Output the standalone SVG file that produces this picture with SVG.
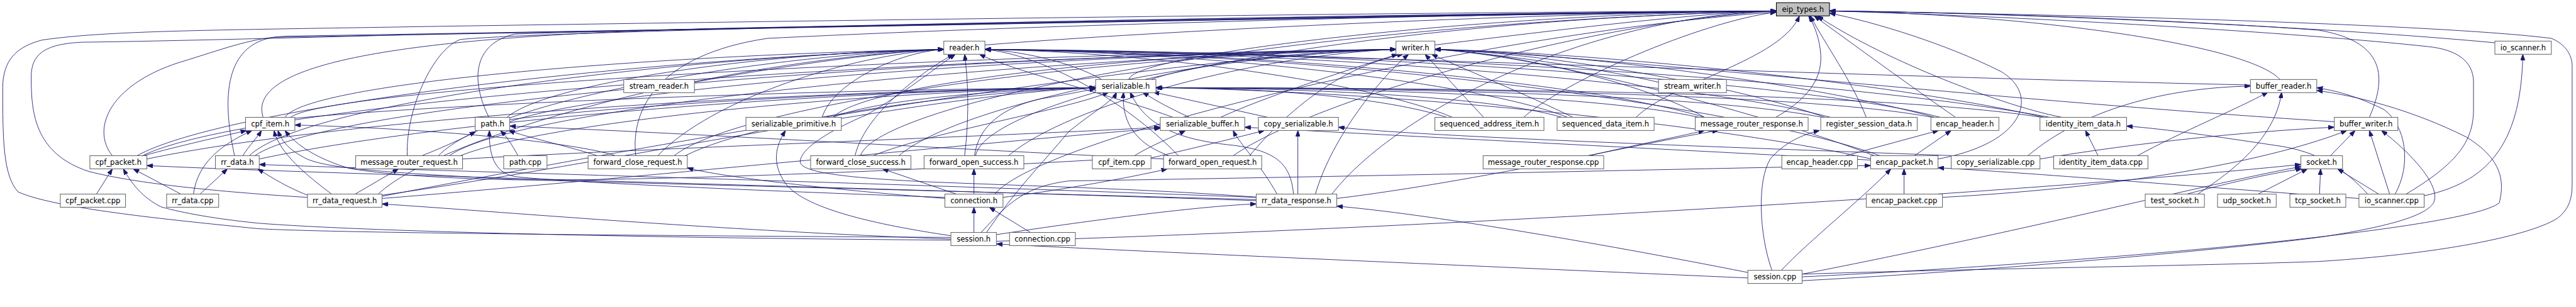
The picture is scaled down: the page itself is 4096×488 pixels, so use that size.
<svg xmlns="http://www.w3.org/2000/svg" width="4096" height="488" viewBox="0 0 4096 488">
<defs>
<marker id="a" markerWidth="11" markerHeight="8" refX="11" refY="4" orient="auto" markerUnits="userSpaceOnUse"><path d="M0,0L11,4L0,8z" fill="#191970" stroke="#191970" stroke-width="1"/></marker>
<style>
.edges path{fill:none;stroke:#191970;stroke-width:1;marker-end:url(#a)}
.node rect{fill:#ffffff;stroke:#666666;stroke-width:1.2}
.root rect{fill:#bfbfbf;stroke:#000000;stroke-width:1.2}
text{font-family:"DejaVu Sans","Liberation Sans",sans-serif;font-size:13.33px;fill:#000;text-anchor:middle}
</style>
</defs>
<rect width="4096" height="488" fill="#ffffff"/>
<g transform="scale(0.871489)">
<g id="edges" class="edges">
<path d="M1797,82 C2200,50 2900,22 3241,20"/>
<path d="M2618,82 C2800,60 3100,22 3241,20"/>
<path d="M4552,78 C4200,45 3600,22 3338,20"/>
<path d="M2060,145 C2060,100 2700,24 3241,20"/>
<path d="M4160,145 C4100,80 3700,26 3338,20"/>
<path d="M4323,214 C4365,120 4330,72 4230,55 C4000,38 3600,22 3338,20"/>
<path d="M480,214 C450,120 700,62 1400,50 C2200,36 2900,22 3241,20"/>
<path d="M205,284 C165,235 200,150 340,110 C420,85 460,70 520,66 C1500,50 2800,25 3241,20"/>
<path d="M428,284 C400,160 420,80 500,68 C1500,50 2800,25 3241,20"/>
<path d="M561,360 C400,350 250,335 163,313 C60,280 57,200 57,140 C57,100 80,80 150,77 C300,75 500,70 800,62 C2000,40 2900,22 3241,20"/>
<path d="M1735,433 C1200,430 600,425 470,417 C300,400 100,380 33,350 C5,320 5,250 5,160 C5,110 30,85 77,73 C200,55 400,55 800,48 C2000,30 2900,20 3241,20"/>
<path d="M2430,354 C2550,200 2900,30 3241,20"/>
<path d="M743,284 C740,200 790,90 840,72 C1000,55 2500,25 3241,20"/>
<path d="M892,214 C860,150 860,80 940,62 C1500,45 2800,22 3241,20"/>
<path d="M1160,284 C1150,200 1200,100 1400,70 C2000,40 2900,22 3241,20"/>
<path d="M1780,284 C1800,180 2400,40 3241,20"/>
<path d="M1570,284 C1600,190 2300,45 3241,20"/>
<path d="M2250,284 C2400,180 2900,40 3241,20"/>
<path d="M2780,214 C2850,150 3100,40 3241,22"/>
<path d="M2985,214 C3050,150 3250,110 3283,29"/>
<path d="M3240,214 C3290,185 3325,150 3322,100 C3320,70 3310,45 3300,29"/>
<path d="M3405,214 C3380,150 3330,80 3303,29"/>
<path d="M3568,214 C3490,160 3380,80 3310,29"/>
<path d="M3536,290 C3700,260 3720,170 3650,130 C3550,80 3420,40 3338,24"/>
<path d="M3762,214 C3640,190 3420,100 3316,29"/>
<path d="M1815,354 C1900,250 2700,60 3241,22"/>
<path d="M3288,500 C3600,490 4000,485 4230,477 C4500,460 4640,420 4670,395 C4693,375 4693,350 4693,330 L4693,120 C4693,100 4680,80 4655,70 C4500,50 4000,30 3338,20"/>
<path d="M4390,354 C4480,300 4513,260 4513,200 L4513,150 C4513,110 4480,90 4430,85 C4200,60 3700,30 3338,20"/>
<path d="M1267,150 C1400,125 1600,95 1722,90"/>
<path d="M1500,214 C1520,150 1640,95 1722,90"/>
<path d="M520,214 C560,150 1200,100 1722,90"/>
<path d="M250,284 C400,200 1100,110 1722,90"/>
<path d="M455,284 C550,190 1200,105 1722,90"/>
<path d="M925,214 C1000,150 1400,95 1722,90"/>
<path d="M800,284 C900,180 1400,100 1722,90"/>
<path d="M1200,284 C1300,180 1550,100 1722,90"/>
<path d="M1560,284 C1580,200 1700,120 1740,99"/>
<path d="M1760,284 C1770,200 1765,140 1760,99"/>
<path d="M690,354 C800,250 1300,110 1722,90"/>
<path d="M2010,145 C1950,110 1850,92 1797,90"/>
<path d="M4106,155 C3400,140 2300,95 1797,90"/>
<path d="M2140,214 C2050,180 1850,130 1787,99"/>
<path d="M2150,284 C2050,180 1900,100 1797,90"/>
<path d="M2650,214 C2500,150 2100,95 1797,90"/>
<path d="M2860,214 C2700,150 2200,95 1797,90"/>
<path d="M3110,214 C2900,150 2300,95 1797,90"/>
<path d="M3340,214 C3100,150 2400,95 1797,90"/>
<path d="M3540,214 C3300,150 2500,95 1797,90"/>
<path d="M3430,284 C3200,200 2500,100 1797,90"/>
<path d="M3740,214 C3400,150 2600,95 1797,90"/>
<path d="M2300,360 C2100,345 1900,340 1700,332 C1550,325 1460,315 1460,295 C1460,270 1520,235 1580,210 C1650,170 1705,125 1743,99"/>
<path d="M2100,145 C2200,110 2400,92 2547,90"/>
<path d="M1520,214 C1580,150 2100,95 2547,90"/>
<path d="M2227,214 C2300,180 2450,130 2550,99"/>
<path d="M530,214 C600,160 1700,100 2547,90"/>
<path d="M260,284 C450,190 1500,110 2547,90"/>
<path d="M465,284 C600,190 1600,105 2547,90"/>
<path d="M930,222 C1100,160 1900,100 2547,90"/>
<path d="M820,284 C950,190 1900,105 2547,90"/>
<path d="M1230,284 C1350,190 2000,100 2547,90"/>
<path d="M1640,284 C1750,190 2200,100 2547,90"/>
<path d="M1840,284 C1950,190 2300,100 2547,90"/>
<path d="M2280,284 C2350,200 2450,120 2560,99"/>
<path d="M697,358 C1000,300 2000,110 2547,90"/>
<path d="M2400,354 C2430,250 2520,140 2570,99"/>
<path d="M3026,150 C2900,120 2700,95 2618,90"/>
<path d="M4259,222 C3600,180 2900,100 2618,90"/>
<path d="M2707,214 L2600,99"/>
<path d="M2870,214 C2780,170 2680,130 2612,99"/>
<path d="M3110,214 C3000,150 2750,95 2618,90"/>
<path d="M3330,214 C3150,150 2800,95 2618,90"/>
<path d="M3530,214 C3300,150 2850,95 2618,90"/>
<path d="M3420,284 C3200,200 2800,100 2618,90"/>
<path d="M3730,214 C3450,150 2900,95 2618,90"/>
<path d="M1520,214 C1600,180 1850,162 1999,160"/>
<path d="M535,216 C800,190 1500,162 1999,160"/>
<path d="M268,290 C600,220 1400,165 1999,160"/>
<path d="M473,290 C800,220 1500,165 1999,160"/>
<path d="M930,218 C1200,185 1700,162 1999,160"/>
<path d="M840,284 C1000,220 1600,165 1999,160"/>
<path d="M1250,284 C1400,210 1800,165 1999,160"/>
<path d="M1593,284 C1700,240 1950,200 2023,168"/>
<path d="M1778,284 C1785,230 1830,195 1900,180 C1950,172 1980,165 1999,162"/>
<path d="M697,356 C1100,300 1700,170 1999,160"/>
<path d="M1800,424 C1850,350 1900,300 1950,240 C2000,200 2030,185 2037,168"/>
<path d="M2133,284 C2080,265 2045,230 2050,168"/>
<path d="M2360,354 C2355,300 2330,275 2250,265 C2150,255 2090,230 2062,168"/>
<path d="M2170,214 C2140,200 2110,185 2085,168"/>
<path d="M2313,214 C2250,200 2160,180 2104,168"/>
<path d="M2640,214 C2500,170 2250,160 2109,160"/>
<path d="M2850,214 C2700,170 2300,160 2109,160"/>
<path d="M3100,214 C2900,170 2400,160 2109,160"/>
<path d="M3325,214 C3100,170 2500,160 2109,160"/>
<path d="M3525,214 C3300,170 2600,160 2109,160"/>
<path d="M3415,290 C3100,220 2500,165 2109,160"/>
<path d="M3725,214 C3450,170 2700,160 2109,160"/>
<path d="M2070,284 C2100,265 2140,250 2163,238"/>
<path d="M844,290 C1200,270 1900,245 2117,232"/>
<path d="M697,362 C1100,330 1900,250 2117,234"/>
<path d="M3413,292 C3000,270 2500,245 2271,232"/>
<path d="M2330,354 C2300,300 2260,260 2250,238"/>
<path d="M2368,354 L2368,238"/>
<path d="M2100,288 C2180,270 2260,250 2307,238"/>
<path d="M3565,284 C3200,270 2600,250 2442,232"/>
<path d="M262,284 C330,265 400,250 450,238"/>
<path d="M353,354 C360,300 400,265 460,238"/>
<path d="M443,284 C455,265 470,250 477,238"/>
<path d="M605,354 C560,320 510,280 500,238"/>
<path d="M2292,364 C1600,345 1000,330 940,327 C700,315 600,307 560,290 C530,275 515,260 507,238"/>
<path d="M1993,292 C1500,320 1100,330 940,328 C780,325 680,315 637,307 C580,290 540,265 520,238"/>
<path d="M1123,284 C1050,260 800,235 538,228"/>
<path d="M176,354 L205,308"/>
<path d="M330,354 L243,308"/>
<path d="M1735,438 C1300,435 700,425 470,407 C380,398 320,385 293,377 C260,360 240,335 225,308"/>
<path d="M2292,366 C1500,340 600,318 268,302"/>
<path d="M365,354 L415,308"/>
<path d="M561,356 C520,340 490,320 470,308"/>
<path d="M2292,360 C1500,330 800,312 473,300"/>
<path d="M770,284 C810,268 845,252 868,240"/>
<path d="M945,284 C935,265 925,250 913,238"/>
<path d="M1090,284 C1030,265 960,250 928,238"/>
<path d="M2123,290 C1700,270 1200,240 930,230"/>
<path d="M1724,360 C1300,345 1000,330 940,322 C900,315 892,280 893,238"/>
<path d="M1735,430 C1600,410 1460,380 1430,330 C1405,290 1420,260 1433,238"/>
<path d="M648,354 L727,308"/>
<path d="M1735,436 C1300,420 900,385 697,372"/>
<path d="M1724,362 C1500,345 1300,320 1254,306"/>
<path d="M1745,354 L1610,308"/>
<path d="M1777,354 L1777,308"/>
<path d="M1830,360 C1950,345 2080,320 2130,308"/>
<path d="M1777,424 L1777,378"/>
<path d="M1880,424 L1805,378"/>
<path d="M3189,507 C2800,490 2000,455 1818,445"/>
<path d="M1818,428 C2000,400 2200,375 2292,372"/>
<path d="M3189,497 C2900,440 2600,390 2439,376"/>
<path d="M2900,284 C2980,265 3060,250 3110,238"/>
<path d="M2439,362 C2700,330 3000,260 3135,238"/>
<path d="M3233,493 C3210,430 3205,330 3230,290 C3255,260 3290,245 3320,238"/>
<path d="M3367,284 L3537,238"/>
<path d="M3493,284 L3560,238"/>
<path d="M3474,354 L3474,308"/>
<path d="M3250,493 C3300,440 3400,360 3450,308"/>
<path d="M1790,424 C1840,370 1870,340 1950,330 C2600,320 3200,305 3413,302"/>
<path d="M4304,362 C4000,340 3700,315 3536,306"/>
<path d="M3828,284 L3805,238"/>
<path d="M4320,354 C4280,310 4230,275 4150,265 C4050,250 3950,235 3880,230"/>
<path d="M4010,354 C4060,320 4150,260 4163,168"/>
<path d="M4370,354 C4400,300 4390,230 4350,200 C4300,175 4260,165 4227,160"/>
<path d="M3288,505 C3800,480 4500,420 4560,370 C4570,330 4565,290 4500,250 C4400,200 4300,175 4227,165"/>
<path d="M3700,284 C3800,200 3950,160 4106,157"/>
<path d="M3900,284 C3980,240 4080,200 4138,168"/>
<path d="M4360,354 L4323,238"/>
<path d="M3288,512 C3700,490 4100,450 4230,433 C4350,415 4425,395 4440,370 C4455,340 4400,280 4345,238"/>
<path d="M4252,284 L4297,238"/>
<path d="M3722,290 C3900,260 4100,240 4259,232"/>
<path d="M3544,360 C3900,340 4150,290 4282,238"/>
<path d="M4232,354 L4234,308"/>
<path d="M4120,354 L4210,308"/>
<path d="M3990,354 C4080,330 4150,315 4200,308"/>
<path d="M4340,354 L4265,308"/>
<path d="M3288,500 C3700,420 4050,330 4198,304"/>
<path d="M1818,440 C2500,420 3600,360 4198,300"/>
<path d="M4423,357 C4550,330 4600,250 4603,99"/>
</g>
<g id="n_eip_types_h" class="root"><rect x="3241" y="5" width="97" height="24"/><text x="3289.5" y="22">eip_types.h</text></g>
<g id="n_reader_h" class="node"><rect x="1722" y="75" width="75" height="24"/><text x="1759.5" y="92">reader.h</text></g>
<g id="n_writer_h" class="node"><rect x="2547" y="75" width="71" height="24"/><text x="2582.5" y="92">writer.h</text></g>
<g id="n_io_scanner_h" class="node"><rect x="4552" y="75" width="103" height="24"/><text x="4603.5" y="92">io_scanner.h</text></g>
<g id="n_stream_reader_h" class="node"><rect x="1138" y="145" width="129" height="24"/><text x="1202.5" y="162">stream_reader.h</text></g>
<g id="n_serializable_h" class="node"><rect x="1999" y="145" width="110" height="24"/><text x="2054" y="162">serializable.h</text></g>
<g id="n_stream_writer_h" class="node"><rect x="3026" y="145" width="124" height="24"/><text x="3088" y="162">stream_writer.h</text></g>
<g id="n_buffer_reader_h" class="node"><rect x="4106" y="145" width="121" height="24"/><text x="4166.5" y="162">buffer_reader.h</text></g>
<g id="n_cpf_item_h" class="node"><rect x="448" y="214" width="90" height="24"/><text x="493" y="231">cpf_item.h</text></g>
<g id="n_path_h" class="node"><rect x="867" y="214" width="63" height="24"/><text x="898.5" y="231">path.h</text></g>
<g id="n_serializable_primitive_h" class="node"><rect x="1361" y="214" width="174" height="24"/><text x="1448" y="231">serializable_primitive.h</text></g>
<g id="n_serializable_buffer_h" class="node"><rect x="2117" y="214" width="154" height="24"/><text x="2194" y="231">serializable_buffer.h</text></g>
<g id="n_copy_serializable_h" class="node"><rect x="2296" y="214" width="146" height="24"/><text x="2369" y="231">copy_serializable.h</text></g>
<g id="n_sequenced_address_item_h" class="node"><rect x="2618" y="214" width="199" height="24"/><text x="2717.5" y="231">sequenced_address_item.h</text></g>
<g id="n_sequenced_data_item_h" class="node"><rect x="2841" y="214" width="177" height="24"/><text x="2929.5" y="231">sequenced_data_item.h</text></g>
<g id="n_message_router_response_h" class="node"><rect x="3093" y="214" width="206" height="24"/><text x="3196" y="231">message_router_response.h</text></g>
<g id="n_register_session_data_h" class="node"><rect x="3322" y="214" width="176" height="24"/><text x="3410" y="231">register_session_data.h</text></g>
<g id="n_encap_header_h" class="node"><rect x="3523" y="214" width="124" height="24"/><text x="3585" y="231">encap_header.h</text></g>
<g id="n_identity_item_data_h" class="node"><rect x="3722" y="214" width="158" height="24"/><text x="3801" y="231">identity_item_data.h</text></g>
<g id="n_buffer_writer_h" class="node"><rect x="4259" y="214" width="116" height="24"/><text x="4317" y="231">buffer_writer.h</text></g>
<g id="n_cpf_packet_h" class="node"><rect x="164" y="284" width="104" height="24"/><text x="216" y="301">cpf_packet.h</text></g>
<g id="n_rr_data_h" class="node"><rect x="393" y="284" width="80" height="24"/><text x="433" y="301">rr_data.h</text></g>
<g id="n_message_router_request_h" class="node"><rect x="649" y="284" width="195" height="24"/><text x="746.5" y="301">message_router_request.h</text></g>
<g id="n_path_cpp" class="node"><rect x="919" y="284" width="79" height="24"/><text x="958.5" y="301">path.cpp</text></g>
<g id="n_forward_close_request_h" class="node"><rect x="1073" y="284" width="181" height="24"/><text x="1163.5" y="301">forward_close_request.h</text></g>
<g id="n_forward_close_success_h" class="node"><rect x="1479" y="284" width="183" height="24"/><text x="1570.5" y="301">forward_close_success.h</text></g>
<g id="n_forward_open_success_h" class="node"><rect x="1686" y="284" width="182" height="24"/><text x="1777" y="301">forward_open_success.h</text></g>
<g id="n_cpf_item_cpp" class="node"><rect x="1993" y="284" width="107" height="24"/><text x="2046.5" y="301">cpf_item.cpp</text></g>
<g id="n_forward_open_request_h" class="node"><rect x="2123" y="284" width="179" height="24"/><text x="2212.5" y="301">forward_open_request.h</text></g>
<g id="n_message_router_response_cpp" class="node"><rect x="2706" y="284" width="220" height="24"/><text x="2816" y="301">message_router_response.cpp</text></g>
<g id="n_encap_header_cpp" class="node"><rect x="3251" y="284" width="138" height="24"/><text x="3320" y="301">encap_header.cpp</text></g>
<g id="n_encap_packet_h" class="node"><rect x="3413" y="284" width="123" height="24"/><text x="3474.5" y="301">encap_packet.h</text></g>
<g id="n_copy_serializable_cpp" class="node"><rect x="3560" y="284" width="162" height="24"/><text x="3641" y="301">copy_serializable.cpp</text></g>
<g id="n_identity_item_data_cpp" class="node"><rect x="3747" y="284" width="172" height="24"/><text x="3833" y="301">identity_item_data.cpp</text></g>
<g id="n_socket_h" class="node"><rect x="4198" y="284" width="76" height="24"/><text x="4236" y="301">socket.h</text></g>
<g id="n_cpf_packet_cpp" class="node"><rect x="110" y="354" width="119" height="24"/><text x="169.5" y="371">cpf_packet.cpp</text></g>
<g id="n_rr_data_cpp" class="node"><rect x="304" y="354" width="95" height="24"/><text x="351.5" y="371">rr_data.cpp</text></g>
<g id="n_rr_data_request_h" class="node"><rect x="561" y="354" width="136" height="24"/><text x="629" y="371">rr_data_request.h</text></g>
<g id="n_connection_h" class="node"><rect x="1724" y="354" width="106" height="24"/><text x="1777" y="371">connection.h</text></g>
<g id="n_rr_data_response_h" class="node"><rect x="2292" y="354" width="147" height="24"/><text x="2365.5" y="371">rr_data_response.h</text></g>
<g id="n_encap_packet_cpp" class="node"><rect x="3405" y="354" width="139" height="24"/><text x="3474.5" y="371">encap_packet.cpp</text></g>
<g id="n_test_socket_h" class="node"><rect x="3914" y="354" width="108" height="24"/><text x="3968" y="371">test_socket.h</text></g>
<g id="n_udp_socket_h" class="node"><rect x="4046" y="354" width="107" height="24"/><text x="4099.5" y="371">udp_socket.h</text></g>
<g id="n_tcp_socket_h" class="node"><rect x="4178" y="354" width="102" height="24"/><text x="4229" y="371">tcp_socket.h</text></g>
<g id="n_io_scanner_cpp" class="node"><rect x="4304" y="354" width="119" height="24"/><text x="4363.5" y="371">io_scanner.cpp</text></g>
<g id="n_session_h" class="node"><rect x="1735" y="424" width="83" height="24"/><text x="1776.5" y="441">session.h</text></g>
<g id="n_connection_cpp" class="node"><rect x="1842" y="424" width="120" height="24"/><text x="1902" y="441">connection.cpp</text></g>
<g id="n_session_cpp" class="node"><rect x="3189" y="493" width="99" height="24"/><text x="3238.5" y="510">session.cpp</text></g>
</g>
</svg>
